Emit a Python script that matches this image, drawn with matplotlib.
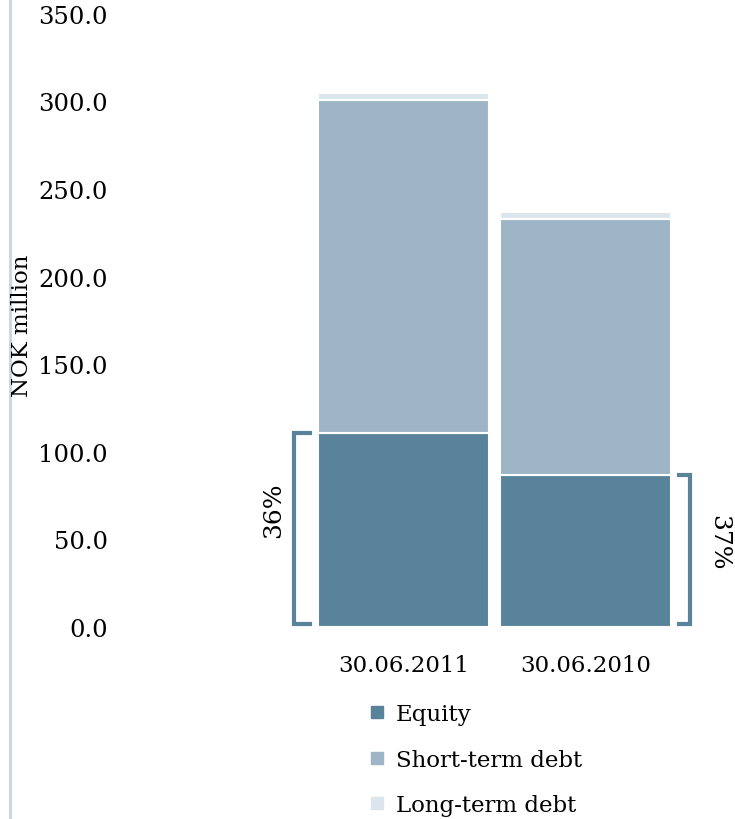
import matplotlib.pyplot as plt
from matplotlib.lines import Line2D

dates = ["30.06.2011", "30.06.2010"]
equity = [111.0, 87.0]
short_term = [190.0, 146.0]
long_term = [4.0, 4.0]
yticks = [0, 50, 100, 150, 200, 250, 300, 350]

c_eq = "#58839b"
c_st = "#9db5c6"
c_lt = "#dce5eb"

plt.rcParams["font.family"] = ["DejaVu Serif"]

fig = plt.figure(figsize=(7.35, 8.2), dpi=100)
ax = fig.add_axes([0.16, 0.234, 0.84, 0.748])

x = list(range(len(dates)))
w = 0.94
bottom2 = [e + s for e, s in zip(equity, short_term)]
ax.bar(x, equity, w, color=c_eq, edgecolor="white", linewidth=1.5, label="Equity")
ax.bar(x, short_term, w, bottom=equity, color=c_st, edgecolor="white", linewidth=1.5, label="Short-term debt")
ax.bar(x, long_term, w, bottom=bottom2, color=c_lt, edgecolor="white", linewidth=1.5, label="Long-term debt")

ax.set_ylim(0, 350)
ax.set_xlim(-1.574, 1.822)
ax.set_yticks(yticks)
ax.set_yticklabels(["%.1f" % v for v in yticks])
ax.set_xticks(x)
ax.set_xticklabels(dates)
ax.tick_params(length=0)
ax.tick_params(axis="y", pad=7, labelsize=17.5)
ax.tick_params(axis="x", pad=19, labelsize=16.5)
for s in ax.spines.values():
    s.set_visible(False)

fig.text(22 / 735, 1 - 326 / 820, "NOK million", rotation=90, ha="center", va="center", fontsize=16.5)

# brackets showing equity share
totals = [e + s + l for e, s, l in zip(equity, short_term, long_term)]
pct = [round(e / t * 100) for e, t in zip(equity, totals)]

xl = x[0] - w / 2 - 0.135
ax.plot([xl + 0.09, xl, xl, xl + 0.09], [equity[0], equity[0], 1.5, 1.5],
        color=c_eq, lw=3, clip_on=False, solid_joinstyle="miter")
ax.text(xl - 0.11, equity[0] / 2 + 12, "%d%%" % pct[0], rotation=90,
        ha="center", va="center", fontsize=18)

xr = x[1] + w / 2 + 0.105
ax.plot([xr - 0.06, xr, xr, xr - 0.06], [equity[1], equity[1], 1.5, 1.5],
        color=c_eq, lw=3, clip_on=False, solid_joinstyle="miter")
ax.text(xr + 0.155, equity[1] / 2 + 5, "%d%%" % pct[1], rotation=270,
        ha="center", va="center", fontsize=18)

handles = [Line2D([], [], marker="s", ls="", color=c, markersize=9)
           for c in [c_eq, c_st, c_lt]]
fig.legend(handles, ["Equity", "Short-term debt", "Long-term debt"],
           loc="upper left", bbox_to_anchor=(360 / 735, 1 - 695 / 820),
           frameon=False, fontsize=16.5, labelspacing=1.02, handlelength=0.7,
           handletextpad=0.45, borderaxespad=0)

fig.add_artist(Line2D([10 / 735, 10 / 735], [0, 1], color="#c8d6e1", lw=2))

fig.savefig("out.png", dpi=100)
